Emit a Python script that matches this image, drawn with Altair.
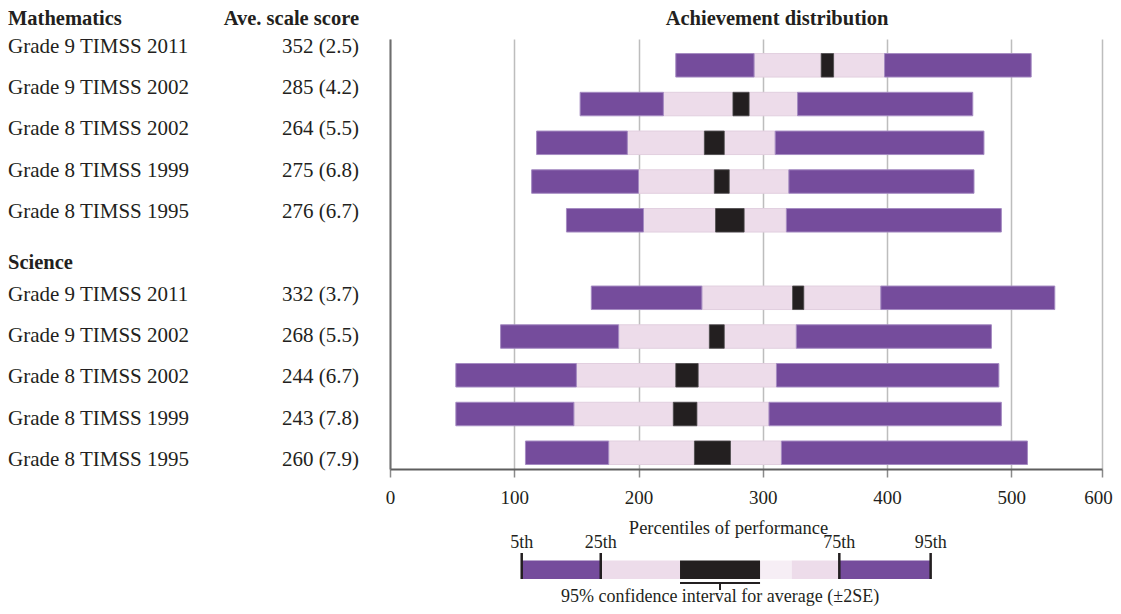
import altair as alt
import pandas as pd

FONT = "Liberation Serif"
INK = "#231f20"
PURPLE = "#754c9c"
PURPLE_EDGE = "#a58bc2"
LIGHT = "#eddcea"
LIGHT_EDGE = "#e2cfdf"
PALE = "#f6eef5"
BLACK = "#231f20"

# ---- data ----
row_labels = ["Grade 9 TIMSS 2011", "Grade 9 TIMSS 2002", "Grade 8 TIMSS 2002",
              "Grade 8 TIMSS 1999", "Grade 8 TIMSS 1995"]

math_mean = [352, 285, 264, 275, 276]
math_se = [2.5, 4.2, 5.5, 6.8, 6.7]
math_p5 = [230, 153, 118, 114, 142]
math_p25 = [293, 220, 191, 200, 204]
math_ci_lo = [347, 276, 253, 261, 262]
math_ci_hi = [357, 289, 269, 273, 285]
math_p75 = [398, 328, 310, 321, 319]
math_p95 = [516, 469, 478, 470, 492]

sci_mean = [332, 268, 244, 243, 260]
sci_se = [3.7, 5.5, 6.7, 7.8, 7.9]
sci_p5 = [162, 89, 53, 53, 109]
sci_p25 = [251, 184, 150, 148, 176]
sci_ci_lo = [324, 257, 230, 228, 245]
sci_ci_hi = [333, 269, 248, 247, 274]
sci_p75 = [395, 327, 311, 305, 315]
sci_p95 = [535, 484, 490, 492, 513]

x_ticks = [0, 100, 200, 300, 400, 500, 573]   # last gridline is labelled 600 in the source

# legend key (in axis units)
leg_pct_names = ["5th", "25th", "75th", "95th"]
leg_pct_pos = [106, 169.6, 361.6, 435.1]
leg_ci = [233.4, 297.8]
leg_pale_end = 323.3

# ---- tables ----
bar_rows, txt_rows = [], []
for (means, ses, p5, p25, lo, hi, p75, p95, offset) in [
    (math_mean, math_se, math_p5, math_p25, math_ci_lo, math_ci_hi, math_p75, math_p95, 0),
    (sci_mean, sci_se, sci_p5, sci_p25, sci_ci_lo, sci_ci_hi, sci_p75, sci_p95, 6),
]:
    for i in range(5):
        r = offset + i
        bar_rows += [
            dict(row=r, kind="outer", start=p5[i], end=p25[i]),
            dict(row=r, kind="outer", start=p75[i], end=p95[i]),
            dict(row=r, kind="inner", start=p25[i], end=p75[i]),
            dict(row=r, kind="ci", start=lo[i], end=hi[i]),
        ]
        txt_rows.append(dict(trow=r, label=row_labels[i],
                             score=f"{means[i]} ({ses[i]})"))
bars = pd.DataFrame(bar_rows)
texts = pd.DataFrame(txt_rows)
section = pd.DataFrame([dict(trow=5.24, label="Science")])

xscale = alt.Scale(domain=[0, 573], nice=False, zero=False)
xaxis = alt.Axis(values=x_ticks, labelExpr="datum.value > 550 ? '600' : datum.label",
                 labelFlush=False, labelOverlap=False,
                 labelOffset={"condition": {"test": "datum.value > 550", "value": -4}, "value": 0},
                 grid=True, gridColor="#bdbdbd", gridWidth=1.5,
                 domainColor="#5e5e5e", domainWidth=2,
                 tickColor="#8a8a8a", tickSize=8, tickWidth=1.5,
                 labelFont=FONT, labelFontSize=19, labelColor=INK,
                 labelBaseline="middle", labelPadding=20,
                 title="Percentiles of performance", titleFont=FONT,
                 titleFontSize=18.5, titleFontWeight="normal", titleColor=INK,
                 titleX=338, titleY=58, titleAlign="center", titleBaseline="middle")
ybar = alt.Scale(domain=[-0.55, 10.29], reverse=True, nice=False, zero=False)
ytxt = alt.Scale(domain=[-0.186, 10.218], reverse=True, nice=False, zero=False)


def X(field):
    return alt.X(field, type="quantitative", scale=xscale, axis=xaxis)


base = alt.Chart(bars)
inner = base.transform_filter("datum.kind == 'inner'").mark_bar(
    orient="horizontal", size=23.5, color=LIGHT, stroke=LIGHT_EDGE, strokeWidth=1
).encode(x=X("start"), x2="end",
         y=alt.Y("row:Q", scale=ybar,
                 axis=alt.Axis(labels=False, ticks=False, grid=False, title=None,
                               domainColor="#6e6e6e", domainWidth=2)))
outer = base.transform_filter("datum.kind == 'outer'").mark_bar(
    orient="horizontal", size=23.5, color=PURPLE, stroke=PURPLE_EDGE, strokeWidth=1
).encode(x=X("start"), x2="end", y=alt.Y("row:Q", scale=ybar, axis=None))
ci = base.transform_filter("datum.kind == 'ci'").mark_bar(
    orient="horizontal", size=23.5, color=BLACK, stroke="#4a4a4a", strokeWidth=0.8
).encode(x=X("start"), x2="end", y=alt.Y("row:Q", scale=ybar, axis=None))

label_txt = alt.Chart(texts).mark_text(
    align="left", baseline="middle", font=FONT, fontSize=21, color=INK
).encode(x=alt.value(-382), y=alt.Y("trow:Q", scale=ytxt, axis=None), text="label:N")
score_txt = alt.Chart(texts).mark_text(
    align="right", baseline="middle", font=FONT, fontSize=21, color=INK
).encode(x=alt.value(-31), y=alt.Y("trow:Q", scale=ytxt, axis=None), text="score:N")
section_txt = alt.Chart(section).mark_text(
    align="left", baseline="middle", font=FONT, fontSize=20.5, fontWeight="bold", color=INK
).encode(x=alt.value(-382), y=alt.Y("trow:Q", scale=ytxt, axis=None), text="label:N")

HY = -14
h1 = alt.Chart(pd.DataFrame([dict(t="Mathematics")])).mark_text(
    align="left", baseline="alphabetic", font=FONT, fontSize=20.5, fontWeight="bold", color=INK
).encode(x=alt.value(-382), y=alt.value(HY), text="t:N")
h2 = alt.Chart(pd.DataFrame([dict(t="Ave. scale score")])).mark_text(
    align="right", baseline="alphabetic", font=FONT, fontSize=20.5, fontWeight="bold", color=INK
).encode(x=alt.value(-31), y=alt.value(HY), text="t:N")
h3 = alt.Chart(pd.DataFrame([dict(t="Achievement distribution")])).mark_text(
    align="center", baseline="alphabetic", font=FONT, fontSize=20.5, fontWeight="bold", color=INK
).encode(x=alt.value(387), y=alt.value(HY), text="t:N")

# ---- legend key ----
leg_segs = pd.DataFrame([
    dict(a=leg_pct_pos[0], b=leg_pct_pos[1], c=PURPLE),
    dict(a=leg_pct_pos[1], b=leg_ci[0], c=LIGHT),
    dict(a=leg_ci[1], b=leg_pale_end, c=PALE),
    dict(a=leg_pale_end, b=leg_pct_pos[2], c=LIGHT),
    dict(a=leg_pct_pos[2], b=leg_pct_pos[3], c=PURPLE),
    dict(a=leg_ci[0], b=leg_ci[1], c=BLACK),
])
leg_bar = alt.Chart(leg_segs).mark_rect().encode(
    x=X("a"), x2="b", y=alt.value(521.5), y2=alt.value(540),
    color=alt.Color("c:N", scale=None))
leg_pcts = pd.DataFrame(dict(p=leg_pct_pos, name=leg_pct_names))
leg_ticks = alt.Chart(leg_pcts).mark_rule(color=BLACK, strokeWidth=2.5).encode(
    x=X("p"), y=alt.value(514), y2=alt.value(540))
leg_lbls = alt.Chart(leg_pcts).mark_text(
    align="center", baseline="middle", font=FONT, fontSize=18, color=INK
).encode(x=X("p"), y=alt.value(504), text="name:N")
leg_ci_df = pd.DataFrame([dict(a=leg_ci[0], b=leg_ci[1], m=(leg_ci[0] + leg_ci[1]) / 2,
                               t="95% confidence interval for average (\u00b12SE)")])
leg_brk = alt.Chart(leg_ci_df).mark_rule(color=BLACK, strokeWidth=2).encode(
    x=X("a"), x2="b", y=alt.value(544))
leg_brk2 = alt.Chart(leg_ci_df).mark_rule(color=BLACK, strokeWidth=2).encode(
    x=X("m"), y=alt.value(544), y2=alt.value(551))
leg_txt = alt.Chart(leg_ci_df).mark_text(
    align="center", baseline="middle", font=FONT, fontSize=18, color=INK
).encode(x=X("m"), y=alt.value(558), text="t:N")

chart = alt.layer(
    inner, outer, ci, label_txt, score_txt, section_txt, h1, h2, h3,
    leg_bar, leg_ticks, leg_lbls, leg_brk, leg_brk2, leg_txt
).resolve_scale(y="independent").properties(
    width=712, height=430,
    padding={"left": 382, "top": 31, "right": 11, "bottom": 137},
    autosize=alt.AutoSizeParams(type="none"),
).configure_view(stroke=None)

chart.save("out.html", embed_options={"renderer": "svg", "actions": False})
